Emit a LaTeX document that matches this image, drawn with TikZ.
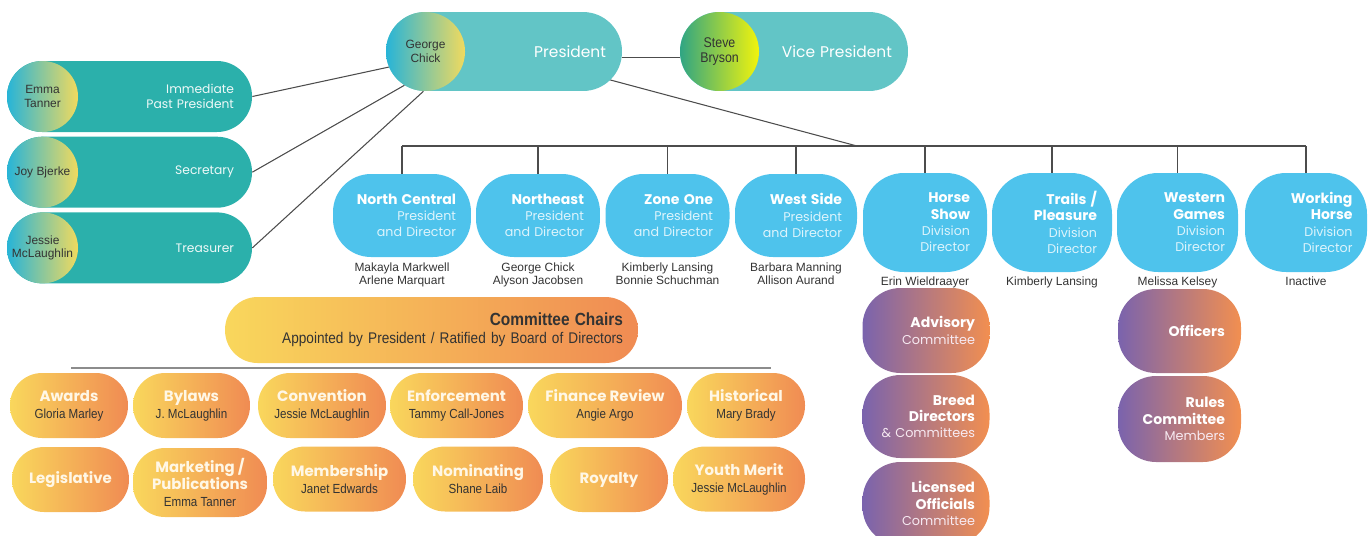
\documentclass[tikz,border=0pt]{standalone}
\usepackage{fontspec}
\setmainfont{Poppins}
\newfontfamily\lib{Liberation Sans}
\newfontfamily\libnarrow[FakeStretch=0.88]{Liberation Sans}
\usetikzlibrary{positioning}
\usetikzlibrary{backgrounds}
\definecolor{tealdark}{HTML}{2BB0AB}
\definecolor{teallight}{HTML}{62C5C6}
\definecolor{skyblue}{HTML}{4EC3EC}
\definecolor{skysub}{HTML}{DDF4FC}
\definecolor{mgold}{HTML}{F9D75C}
\definecolor{morange}{HTML}{F08B53}
\definecolor{mpurple}{HTML}{7A63AD}
\definecolor{mpink}{HTML}{C870A8}
\definecolor{mpeach}{HTML}{F28F50}
\definecolor{mcyan}{HTML}{27B4D8}
\definecolor{myellow}{HTML}{F1DA5E}
\definecolor{mgreen}{HTML}{30A583}
\definecolor{mmint}{HTML}{3EDE9E}
\definecolor{mlemon}{HTML}{F2F40C}
\definecolor{inkgray}{HTML}{333333}
\definecolor{cream}{HTML}{FFF7E6}
\newcommand{\hd}[1]{{\color{white}\bfseries\fontsize{8}{9.3}\selectfont#1}}
\newcommand{\chair}[1]{{\libnarrow\mdseries\fontsize{7.5}{8}\selectfont\color{inkgray}#1}}
\tikzset{
  link/.style={draw=black!70, line width=0.6pt},
  bar/.style={draw=black!45, line width=1.2pt},
  toppill/.style={rectangle, rounded corners=0.78cm, fill=teallight, minimum height=1.58cm,
    align=right, text=white, font=\fontsize{8.8}{10.5}\selectfont},
  sidepill/.style={rectangle, rounded corners=0.7cm, fill=tealdark, minimum width=4.9cm,
    minimum height=1.42cm, text width=4.18cm, align=right, text=white!92!tealdark,
    font=\fontsize{7}{8.6}\selectfont},
  facecirc/.style={circle, inner sep=0pt, left color=mcyan, right color=myellow,
    text=inkgray, align=center, font=\lib\fontsize{6.8}{7.8}\selectfont},
  region/.style={rectangle, rounded corners=0.76cm, fill=skyblue, minimum height=1.66cm,
    align=right, text=skysub, font=\fontsize{7.2}{9.3}\selectfont},
  division/.style={region, rounded corners=0.82cm, minimum height=1.98cm},
  who/.style={inner sep=1pt, align=center, text=inkgray, font=\lib\fontsize{6.8}{7.9}\selectfont},
  panel/.style={rectangle, rounded corners=0.76cm, left color=mpurple, middle color=mpink,
    right color=mpeach, align=right, text=white!85!mpink, font=\fontsize{7.3}{9.3}\selectfont},
  chairs/.style={rectangle, rounded corners=0.65cm, left color=mgold, right color=morange,
    align=right, text=inkgray, font=\libnarrow\fontsize{8.8}{10}\selectfont},
  compill/.style={rectangle, rounded corners=0.64cm, left color=mgold, right color=morange,
    minimum height=1.3cm, align=center, text=cream, font=\bfseries\fontsize{8.5}{9.6}\selectfont}
}

\begin{document}
\begin{tikzpicture}[x=0.02cm, y=-0.02cm]
  \useasboundingbox (0,0) rectangle (1371,535);

  \node[toppill, minimum width=4.72cm, text width=4.08cm] (pres) at (504,51.5) {President};
  \node[facecirc, minimum size=1.58cm, anchor=west] (george) at (pres.west) {George\\Chick};
  \node[toppill, minimum width=4.56cm, text width=3.92cm] (vp) at (794,51.5) {Vice President};
  \node[facecirc, minimum size=1.58cm, anchor=west, left color=mgreen, middle color=mmint,
    right color=mlemon, font=\libnarrow\fontsize{8}{8.6}\selectfont] (steve) at (vp.west) {Steve\\Bryson};

  \node[sidepill] (ipp) at (129.5,96.5) {Immediate\\Past President};
  \node[sidepill, below=0.08cm of ipp] (sec) {Secretary};
  \node[sidepill, below=0.08cm of sec] (tre) {Treasurer};
  \node[facecirc, minimum size=1.42cm, anchor=west] (emma) at (ipp.west) {Emma\\Tanner};
  \node[facecirc, minimum size=1.42cm, anchor=west] (joy) at (sec.west) {Joy Bjerke};
  \node[facecirc, minimum size=1.42cm, anchor=west] (jessie) at (tre.west) {Jessie\\McLaughlin};

  \draw[link] (ipp.east) -- (george.203);
  \draw[link] (sec.east) -- (george.238);
  \draw[link] (tre.east) -- (george.267);
  \draw[link] ([yshift=-0.12cm]pres.east) -- ([yshift=-0.12cm]steve.west);

  \node[region, minimum width=2.76cm, text width=2.16cm] (nc) at (402,215.5) {\hd{North Central}\\President\\and Director};
  \node[region, minimum width=2.48cm, text width=1.84cm] (ne) at (538,215.5) {\hd{Northeast}\\President\\and Director};
  \node[region, minimum width=2.48cm, text width=1.82cm] (zo) at (667.5,215.5) {\hd{Zone One}\\President\\and Director};
  \node[region, minimum width=2.44cm, text width=1.84cm] (ws) at (796,215.5) {\hd{West Side}\\President\\and Director};
  \node[division, minimum width=2.48cm, text width=1.8cm] (hs) at (925,222.5) {\hd{Horse}\\\hd{Show}\\Division\\Director};
  \node[division, minimum width=2.4cm, text width=1.8cm] (tp) at (1052,222.5) {\hd{Trails /}\\\hd{Pleasure}\\Division\\Director};
  \node[division, minimum width=2.42cm, text width=1.9cm] (wg) at (1177.5,222.5) {\hd{Western}\\\hd{Games}\\Division\\Director};
  \node[division, minimum width=2.44cm, text width=1.86cm] (wh) at (1306,222.5) {\hd{Working}\\\hd{Horse}\\Division\\Director};

  \node[who, below=0.06cm of nc] (ncwho) {Makayla Markwell\\Arlene Marquart};
  \node[who, below=0.06cm of ne] (newho) {George Chick\\Alyson Jacobsen};
  \node[who, below=0.06cm of zo] (zowho) {Kimberly Lansing\\Bonnie Schuchman};
  \node[who, below=0.06cm of ws] (wswho) {Barbara Manning\\Allison Aurand};
  \node[who, below=0.04cm of hs] (hswho) {Erin Wieldraayer};
  \node[who, below=0.04cm of tp] (tpwho) {Kimberly Lansing};
  \node[who, below=0.04cm of wg] (wgwho) {Melissa Kelsey};
  \node[who, below=0.04cm of wh] (whwho) {Inactive};

  \coordinate (busjoin) at (857,146);
  \begin{scope}[on background layer]
    \draw[link] (pres.center) -- (busjoin);
  \end{scope}
  \draw[link] (nc.north |- busjoin) -- (wh.north |- busjoin);
  \foreach \d in {nc,ne,zo,ws,hs,tp,wg,wh}
    \draw[link] (\d.north) -- (\d.north |- busjoin);

  \node[panel, minimum width=2.54cm, minimum height=1.7cm, text width=1.96cm] (adv) at (926,330.5) {\hd{Advisory}\\Committee};
  \node[panel, minimum width=2.54cm, minimum height=1.66cm, text width=1.96cm] (breed) at (926,416.5) {\hd{Breed}\\\hd{Directors}\\\& Committees};
  \begin{scope}
    \clip (0,0) rectangle (1371,535);
    \node[panel, minimum width=2.54cm, minimum height=1.66cm, text width=1.96cm] (lic) at (926,503.5) {\hd{Licensed}\\\hd{Officials}\\Committee};
  \end{scope}
  \node[panel, minimum width=2.46cm, minimum height=1.68cm, text width=1.82cm] (off) at (1179.5,331) {\hd{Officers}};
  \node[panel, minimum width=2.46cm, minimum height=1.72cm, text width=1.82cm] (rules) at (1179.5,419) {\hd{Rules}\\\hd{Committee}\\Members};

  \node[chairs, minimum width=8.26cm, minimum height=1.32cm, text width=7.66cm] (chairs) at (431.5,330)
    {{\bfseries\fontsize{10}{12}\selectfont Committee Chairs}\\Appointed by President / Ratified by Board of Directors};
  \coordinate (barl) at (71,368);
  \coordinate (barr) at (771,368);
  \draw[bar] (barl) -- (barr);

  \node[compill, minimum width=2.36cm] (aw) at (69,405.5) {Awards\\\chair{Gloria Marley}};
  \node[compill, minimum width=2.34cm] (by) at (191.5,405.5) {Bylaws\\\chair{J. McLaughlin}};
  \node[compill, minimum width=2.56cm] (cv) at (322,405.5) {Convention\\\chair{Jessie McLaughlin}};
  \node[compill, minimum width=2.66cm] (en) at (456.5,405.5) {Enforcement\\\chair{Tammy Call-Jones}};
  \node[compill, minimum width=3.08cm] (fr) at (605,405.5) {Finance Review\\\chair{Angie Argo}};
  \node[compill, minimum width=2.36cm] (hi) at (746,405.5) {Historical\\\chair{Mary Brady}};
  \node[compill, minimum width=2.34cm] (lg) at (70.5,479.5) {Legislative};
  \node[compill, minimum width=2.68cm, minimum height=1.38cm] (mk) at (200,482.5) {Marketing /\\Publications\\\chair{Emma Tanner}};
  \node[compill, minimum width=2.66cm] (mb) at (339.5,479) {Membership\\\chair{Janet Edwards}};
  \node[compill, minimum width=2.6cm] (nm) at (478,479) {Nominating\\\chair{Shane Laib}};
  \node[compill, minimum width=2.36cm] (ry) at (609,479.5) {Royalty};
  \node[compill, minimum width=2.64cm] (ym) at (739,479) {Youth Merit\\\chair{Jessie McLaughlin}};
\end{tikzpicture}
\end{document}
